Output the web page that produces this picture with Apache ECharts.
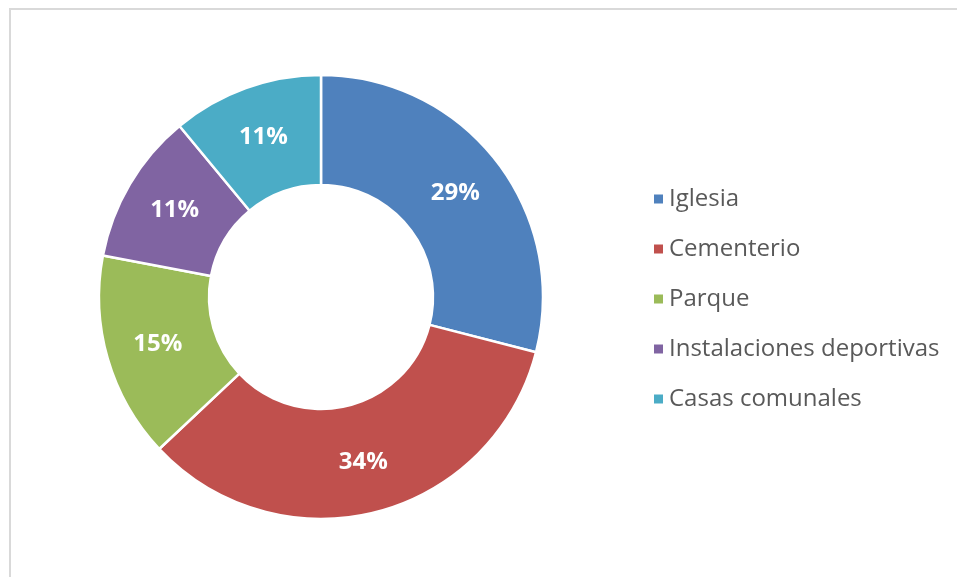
<!DOCTYPE html>
<html>
<head>
<meta charset="utf-8">
<script src="https://cdn.jsdelivr.net/npm/echarts@6/dist/echarts.min.js"></script>
<style>
  body { margin: 0; background: #fff; }
  #frame { position: absolute; left: 9px; top: 8px; width: 960px; height: 580px;
           border-left: 2px solid #d9d9d9; border-top: 2px solid #d9d9d9; }
  #main { position: absolute; left: 0; top: 0; width: 957px; height: 577px; }
</style>
</head>
<body>
<div id="frame"></div>
<div id="main"></div>
<script>
// categorias y porcentajes
let categorias = ['Iglesia', 'Cementerio', 'Parque', 'Instalaciones deportivas', 'Casas comunales'];
let valores = [29, 34, 15, 11, 11];
let colores = ['#4f81bd', '#c0504d', '#9bbb59', '#8064a2', '#4bacc6'];

let datos = [];
for (let i = 0; i < categorias.length; i++) {
    datos.push({ value: valores[i], name: categorias[i] });
}

let chart = echarts.init(document.getElementById('main'));
chart.setOption({
    animation: false,
    color: colores,
    legend: {
        orient: 'vertical',
        left: 647,
        top: 182,
        icon: 'rect',
        itemWidth: 11,
        itemHeight: 11,
        itemGap: 26,
        textStyle: {
            fontFamily: 'Open Sans',
            fontSize: 24,
            lineHeight: 24,
            color: '#595959',
            padding: [0, 0, 0, 0]
        },
        data: categorias
    },
    series: [{
        type: 'pie',
        center: [321, 297],
        radius: [112, 222],
        startAngle: 90,
        clockwise: true,
        itemStyle: { borderColor: '#fff', borderWidth: 2.5 },
        label: {
            position: 'inside',
            formatter: '{c}%',
            color: '#fff',
            fontFamily: 'Open Sans',
            fontWeight: 'bold',
            fontSize: 24
        },
        labelLine: { show: false },
        data: datos
    }]
});
</script>
</body>
</html>
